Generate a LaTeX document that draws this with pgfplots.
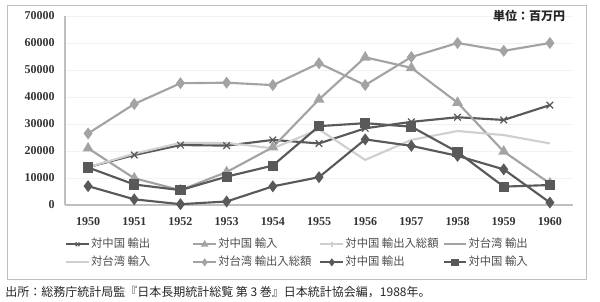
\documentclass[border=0pt]{standalone}
\usepackage{pgfplots}
\pgfplotsset{compat=1.18}
\usepackage{fontspec}
\setmainfont{Liberation Serif}
\newfontfamily\cjk{Noto Sans CJK JP}
\definecolor{dk}{HTML}{595959}
\definecolor{md}{HTML}{A3A3A3}
\definecolor{lt}{HTML}{CFCFCF}
\begin{document}
\begin{tikzpicture}
\draw[black!25, line width=0.6pt] (5.25pt,-3.75pt) rectangle (439.5pt,-209.25pt);
\begin{axis}[
  at={(48.75pt,-153.75pt)}, anchor=south west,
  scale only axis, width=381pt, height=141.75pt,
  xmin=1949.5, xmax=1960.5, ymin=0, ymax=70000,
  xtick={1950,1951,...,1960}, ytick={0,10000,...,70000},
  scaled y ticks=false,
  /pgf/number format/1000 sep={},
  /pgf/number format/assume math mode=true,
  axis x line*=bottom, axis y line*=left,
  axis line style={black!25, line width=0.8pt},
  major tick length=0pt,
  ymajorgrids, grid style={black!5},
  ticklabel style={font=\bfseries\fontsize{9}{10}\selectfont, text=black!80},
  yticklabel style={anchor=east, inner sep=0pt, xshift=-7.5pt},
  xticklabel style={anchor=north, inner sep=0pt, yshift=-9pt},
  legend columns=4,
  legend cell align=left,
  legend image post style={mark size=2pt, line width=1.3pt},
  legend style={draw=none, fill=none, at={(0.0,-0.168)}, anchor=north west,
    font=\cjk\fontsize{8.5}{10}\selectfont, text=black!70, inner sep=0pt, row sep=2.5pt, column sep=0pt,
    nodes={inner sep=1pt, text height=7pt, text depth=2pt}},
]
\addplot[dk, line width=1.6pt, mark=x, mark size=3.5pt, mark options={line width=0.9pt}] coordinates {
(1950,14000) (1951,18500) (1952,22200) (1953,22000) (1954,24100) (1955,22800) (1956,28400) (1957,30800) (1958,32500) (1959,31500) (1960,37000)};
\addlegendentry{\makebox[75pt][l]{対中国 輸出}}
\addplot[md, line width=1.6pt, mark=triangle*, mark size=3.2pt] coordinates {
(1950,21000) (1951,9900) (1952,5500) (1953,12200) (1954,21400) (1955,39100) (1956,54700) (1957,50800) (1958,37900) (1959,19800) (1960,8000)};
\addlegendentry{\makebox[75pt][l]{対中国 輸入}}
\addlegendimage{lt, line width=0.8pt, mark=+, mark size=2pt}
\addlegendentry{\makebox[72pt][l]{対中国 輸出入総額}}
\addlegendimage{md, line width=1.2pt}
\addlegendentry{\makebox[75pt][l]{対台湾 輸出}}
\addplot[lt, line width=1.6pt] coordinates {
(1950,14000) (1951,19000) (1952,23000) (1953,23000) (1954,21000) (1955,28000) (1956,16700) (1957,24100) (1958,27400) (1959,25900) (1960,22800)};
\addlegendentry{\makebox[75pt][l]{対台湾 輸入}}
\addplot[md, line width=1.6pt, mark=diamond*, mark size=3.2pt] coordinates {
(1950,26500) (1951,37400) (1952,45100) (1953,45300) (1954,44400) (1955,52500) (1956,44400) (1957,54800) (1958,60000) (1959,57100) (1960,60000)};
\addlegendentry{\makebox[75pt][l]{対台湾 輸出入総額}}
\addplot[dk, line width=1.6pt, mark=diamond*, mark size=3.2pt] coordinates {
(1950,7000) (1951,2100) (1952,300) (1953,1300) (1954,6900) (1955,10300) (1956,24300) (1957,21900) (1958,18200) (1959,13200) (1960,900)};
\addlegendentry{\makebox[72pt][l]{対中国 輸出}}
\addplot[dk, line width=1.6pt, mark=square*, mark size=3pt] coordinates {
(1950,13900) (1951,7600) (1952,5500) (1953,10500) (1954,14600) (1955,29200) (1956,30300) (1957,29000) (1958,19600) (1959,6800) (1960,7400)};
\addlegendentry{\makebox[75pt][l]{対中国 輸入}}
\end{axis}
\node[font=\cjk\bfseries\fontsize{9}{10}\selectfont, text=black!85] at (396.75pt,-12pt) {単位：百万円};
\node[anchor=west, inner sep=0pt, font=\cjk\fontsize{9}{10}\selectfont, text=black!85] at (3.75pt,-219pt) {出所：総務庁統計局監『日本長期統計総覧 第 3 巻』日本統計協会編，1988年。};
\pgfresetboundingbox
\useasboundingbox (0,0) rectangle (450pt,-226.5pt);
\end{tikzpicture}
\end{document}
